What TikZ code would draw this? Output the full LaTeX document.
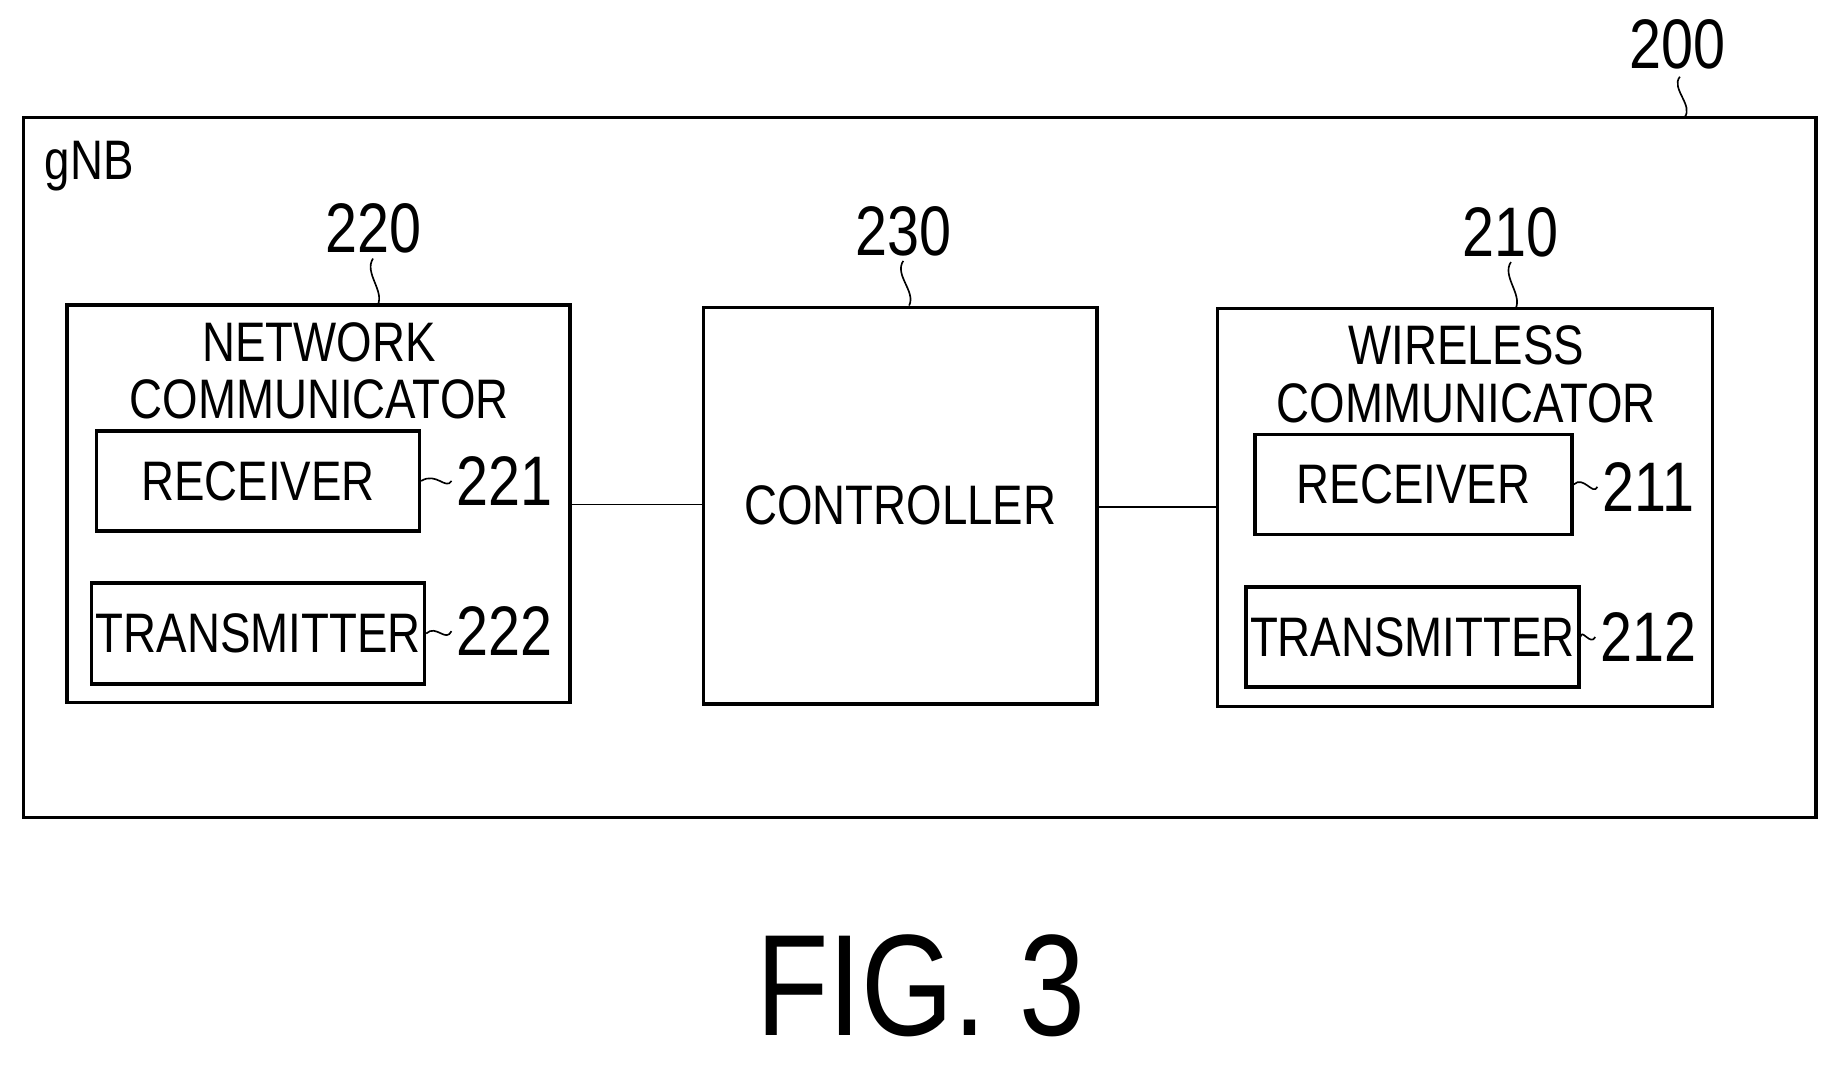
\documentclass[tikz,border=0pt]{standalone}
\usepackage{fontspec}
\setmainfont[FakeStretch=0.82]{Liberation Sans}
\usetikzlibrary{positioning}
\tikzset{
  blk/.style={draw, thick, inner sep=0pt},
  txt/.style={font=\fontsize{13.5}{16}\selectfont, inner sep=1pt},
  num/.style={font=\fontsize{17}{19}\selectfont, inner sep=1pt},
  squig/.style={thin}
}
\begin{document}
\begin{tikzpicture}[x=0.01cm, y=-0.01cm]
  \useasboundingbox (0,0) rectangle (1560,908);
  % outer box
  \draw[thick] (20,100) rectangle (1548,697);
  \coordinate (gnbtop) at (1436,100);
  \node[num] (n200) at (1430,38) {200};
  \draw[squig] (n200.south) ++(2,2) .. controls +(-8,10) and +(8,-10) .. (gnbtop);
  \node[txt, anchor=west] (gnb) at (34,142) {gNB};

  % network communicator
  \draw[thick] (57,260) rectangle (486,599);
  \node[txt, align=center] (netname) at (272,316) {NETWORK\\[-2pt]COMMUNICATOR};
  \node[blk, minimum width=2.75cm, minimum height=0.85cm, txt] (nrx) at (220,410) {RECEIVER};
  \node[blk, minimum width=2.75cm, minimum height=0.86cm, txt] (ntx) at (220,540) {TRANSMITTER};
  \node[num] (n221) at (430,410) {221};
  \node[num] (n222) at (430,538) {222};
  \draw[squig] (nrx.east) .. controls (372,402) and (380,418) .. (n221.west);
  \draw[squig] (ntx.east) .. controls (372,532) and (380,548) .. (n222.west);
  \coordinate (nettop) at (322,260);
  \node[num] (n220) at (318,195) {220};
  \draw[squig] (n220.south) .. controls +(-8,12) and +(6,-12) .. (nettop);

  % controller
  \node[blk, minimum width=3.35cm, minimum height=3.38cm, txt] (ctrl) at (767.5,431) {CONTROLLER};
  \node[num] (n230) at (770,197) {230};
  \draw[squig] (n230.south) .. controls +(-8,12) and +(6,-12) .. (ctrl.north -| 775,0);

  % wireless communicator
  \draw[thick] (1038,263) rectangle (1460,602);
  \node[txt, align=center] (wlname) at (1250,319) {WIRELESS\\[-2pt]COMMUNICATOR};
  \node[blk, minimum width=2.7cm, minimum height=0.85cm, txt] (wrx) at (1205,413) {RECEIVER};
  \node[blk, minimum width=2.68cm, minimum height=0.85cm, txt] (wtx) at (1204,543) {TRANSMITTER};
  \node[num] (n211) at (1405,415) {211};
  \node[num] (n212) at (1405,543) {212};
  \draw[squig] (wrx.east) .. controls (1350,405) and (1358,423) .. (n211.west);
  \draw[squig] (wtx.east) .. controls (1348,535) and (1356,551) .. (n212.west);
  \coordinate (wltop) at (1292,263);
  \node[num] (n210) at (1288,198) {210};
  \draw[squig] (n210.south) .. controls +(-8,12) and +(6,-12) .. (wltop);

  % links
  \coordinate (netr) at (486,430);
  \coordinate (wll) at (1038,432);
  \draw (netr) -- (netr -| ctrl.west);
  \draw (ctrl.east |- wll) -- (wll);

  \node[font=\fontsize{35}{40}\selectfont] (fig) at (785,840) {FIG. 3};
\end{tikzpicture}
\end{document}
